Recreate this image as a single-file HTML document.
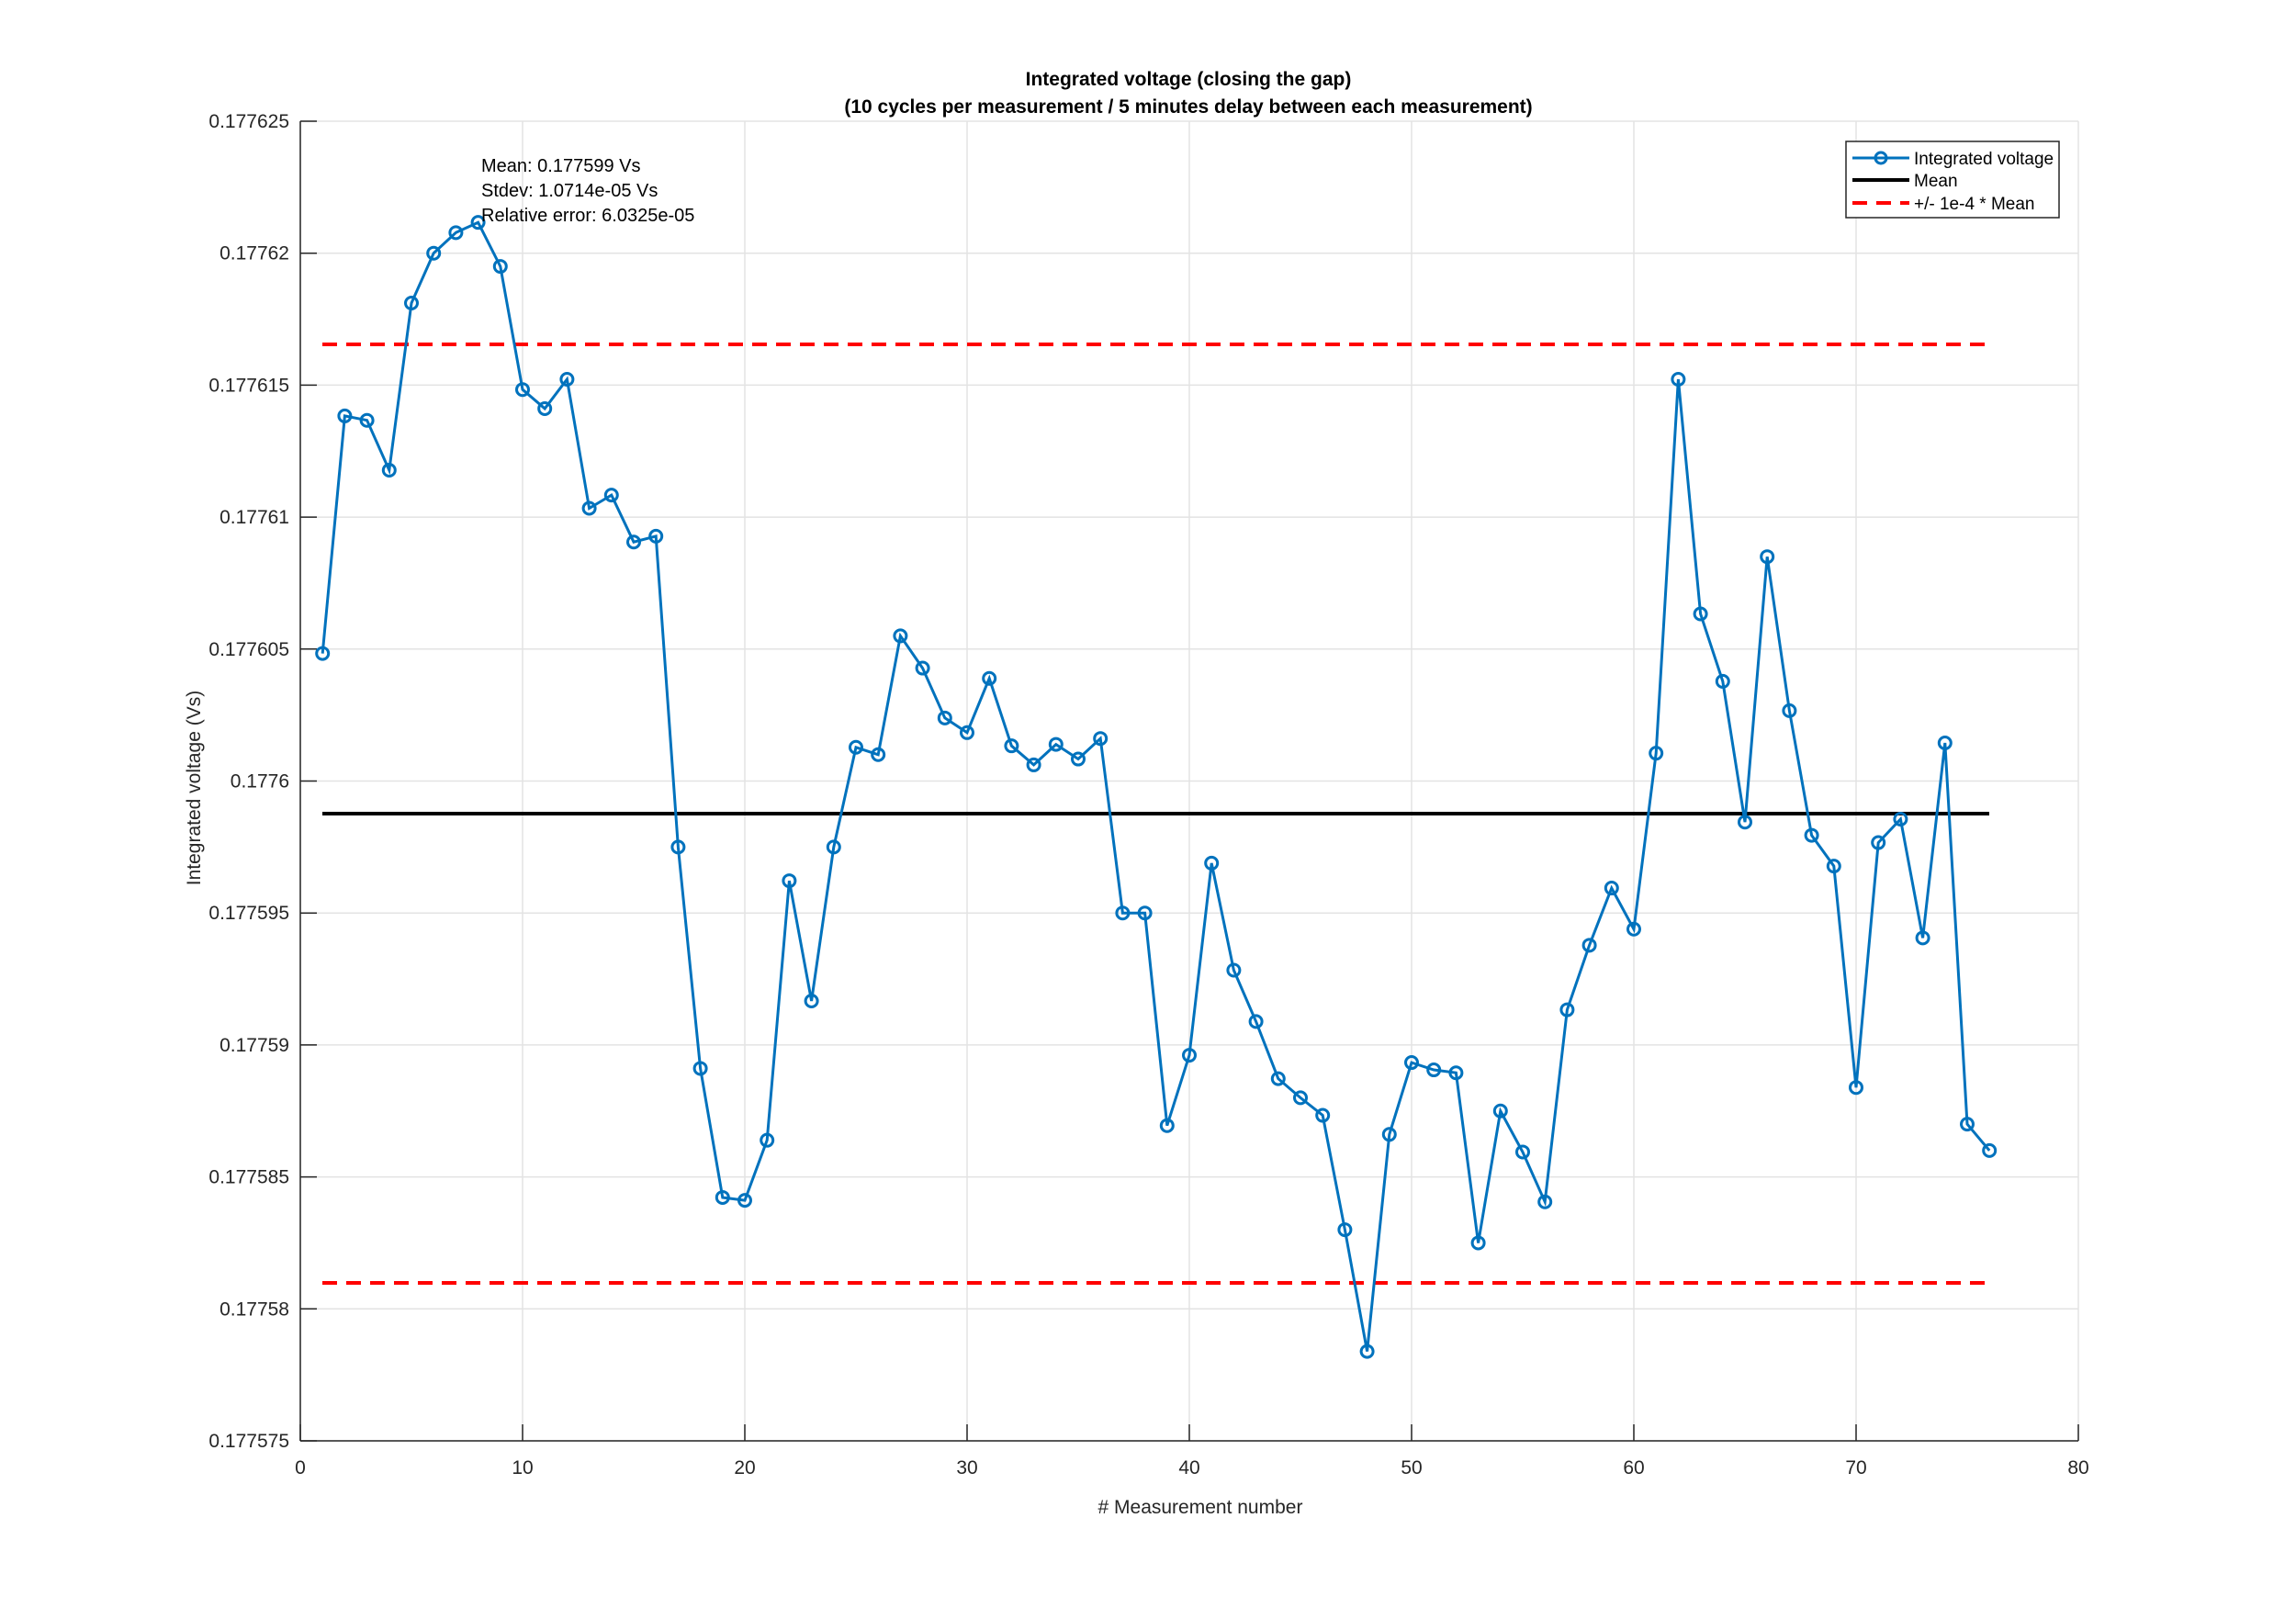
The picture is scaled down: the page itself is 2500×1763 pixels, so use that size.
<!DOCTYPE html>
<html><head><meta charset="utf-8"><style>
html,body{margin:0;padding:0;background:#fff;}
svg{display:block;font-family:"Liberation Sans",Arial,sans-serif;}
</style></head><body>
<svg id="s" width="2500" height="1763" viewBox="0 0 2500 1763" xmlns="http://www.w3.org/2000/svg">
<rect width="2500" height="1763" fill="#fff"/>
<g id="grid" stroke="#e3e3e3" stroke-width="1.5"></g>
<g id="axes"></g>
<line x1="351" y1="375" x2="2166" y2="375" stroke="#ff0000" stroke-width="4" stroke-dasharray="16,10"/>
<line x1="351" y1="1397" x2="2166" y2="1397" stroke="#ff0000" stroke-width="4" stroke-dasharray="16,10"/>
<line x1="351" y1="886" x2="2166" y2="886" stroke="#000" stroke-width="4"/>
<polyline id="pl" fill="none" stroke="#0072bd" stroke-width="3"/>
<g id="mk" fill="none" stroke="#0072bd" stroke-width="3"></g>
<text x="1294" y="93" text-anchor="middle" font-size="21" font-weight="bold" fill="#000">Integrated voltage (closing the gap)</text>
<text x="1294" y="123" text-anchor="middle" font-size="21" font-weight="bold" fill="#000">(10 cycles per measurement / 5 minutes delay between each measurement)</text>
<text x="1307" y="1648" text-anchor="middle" font-size="21" fill="#262626"># Measurement number</text>
<text transform="translate(218,858) rotate(-90)" text-anchor="middle" font-size="21" fill="#262626">Integrated voltage (Vs)</text>
<text x="524" y="187" font-size="20" fill="#000">Mean: 0.177599 Vs</text>
<text x="524" y="214" font-size="20" fill="#000">Stdev: 1.0714e-05 Vs</text>
<text x="524" y="241" font-size="20" fill="#000">Relative error: 6.0325e-05</text>
<rect x="2010" y="154" width="232" height="83" fill="#fff" stroke="#262626" stroke-width="1.5"/>
<line x1="2017" y1="172" x2="2079" y2="172" stroke="#0072bd" stroke-width="3"/>
<circle cx="2048" cy="172" r="6" fill="none" stroke="#0072bd" stroke-width="3"/>
<line x1="2017" y1="196" x2="2079" y2="196" stroke="#000" stroke-width="4"/>
<line x1="2017" y1="221" x2="2079" y2="221" stroke="#ff0000" stroke-width="4" stroke-dasharray="16,10"/>
<text x="2084" y="179" font-size="19" fill="#000">Integrated voltage</text>
<text x="2084" y="203" font-size="19" fill="#000">Mean</text>
<text x="2084" y="228" font-size="19" fill="#000">+/- 1e-4 * Mean</text>
</svg>
<script>
var NS="http://www.w3.org/2000/svg";
function el(p,t,a,txt){var e=document.createElementNS(NS,t);for(var k in a)e.setAttribute(k,a[k]);if(txt!==undefined)e.textContent=txt;p.appendChild(e);return e;}
var X0=327,XS=24.2,Y0=132,Y1=1569;
var g=document.getElementById('grid'),ax=document.getElementById('axes');
for(var i=0;i<=8;i++){var x=X0+i*XS*10;el(g,'line',{x1:x,y1:Y0,x2:x,y2:Y1});
el(ax,'line',{x1:x,y1:Y1,x2:x,y2:Y1-18,stroke:'#262626','stroke-width':1.5});
el(ax,'text',{x:x,y:Y1+36,'text-anchor':'middle','font-size':21,fill:'#262626'},String(i*10));}
var yl=['0.177625','0.17762','0.177615','0.17761','0.177605','0.1776','0.177595','0.17759','0.177585','0.17758','0.177575'];
for(var j=0;j<=10;j++){var y=Y0+j*(Y1-Y0)/10;el(g,'line',{x1:X0,y1:y,x2:X0+80*XS,y2:y});
el(ax,'line',{x1:X0,y1:y,x2:X0+18,y2:y,stroke:'#262626','stroke-width':1.5});
el(ax,'text',{x:X0-12,y:y+7,'text-anchor':'end','font-size':21,fill:'#262626'},yl[j]);}
el(ax,'line',{x1:X0,y1:Y0,x2:X0,y2:Y1,stroke:'#262626','stroke-width':1.5});
el(ax,'line',{x1:X0,y1:Y1,x2:X0+80*XS,y2:Y1,stroke:'#262626','stroke-width':1.5});
var d=[446,284,287,321,207,173,159,152,182,266,279,259,347,338,370,366,578,729,817,819,778,601,683,578,510,515,434,456,490,500,463,509,522,508,518,504,623,623,768,720,589,662,697,736,749,761,839,922,774,725,730,732,848,758,786,820,689,645,606,634,514,259,419,465,561,380,485,570,591,742,575,559,640,507,767,785];
var pts=[],mk=document.getElementById('mk');
for(var k=0;k<d.length;k++){var px=X0+(k+1)*XS,py=Y0+(d[k]-83)/900*(Y1-Y0);pts.push(px.toFixed(1)+','+py.toFixed(1));el(mk,'circle',{cx:px,cy:py,r:6.5});}
document.getElementById('pl').setAttribute('points',pts.join(' '));
</script>
</body></html>
